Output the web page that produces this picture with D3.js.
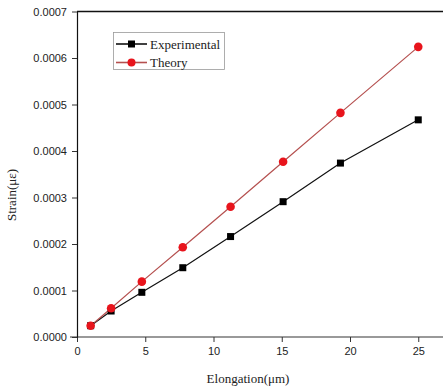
<!DOCTYPE html>
<head>
    <meta charset="utf-8">
    <title>Strain vs Elongation</title>
    <script type="text/javascript" src="https://d3js.org/d3.v7.min.js"></script>
    <style>
        body { margin: 0; background: #fff; }
        .tick text { font-family: "Liberation Sans", Arial, sans-serif; font-size: 11px; fill: #222; }
        .lbl { font-family: "Liberation Serif", "Times New Roman", serif; font-size: 13px; fill: #222; }
    </style>
</head>
<body>
<div id="container"></div>
<script>
    //----------------------------DATA-------------------------------//
    const elongation = [1, 2.5, 4.75, 7.75, 11.25, 15.1, 19.3, 25];
    const experimental = [0.0000243, 0.0000559, 0.0000961, 0.000149, 0.000216, 0.000291, 0.000374, 0.000467];
    const theory = [0.0000243, 0.0000617, 0.000119, 0.000193, 0.00028, 0.000377, 0.000482, 0.000624];
    const xTicks = [0, 5, 10, 15, 20, 25];
    const yTicks = [0, 0.0001, 0.0002, 0.0003, 0.0004, 0.0005, 0.0006, 0.0007];

    //----------------------------SVG--------------------------------//
    const width = 443;
    const height = 392;
    const svg = d3.select("div#container").append("svg")
        .attr("width", width)
        .attr("height", height);

    //---------------------------SCALES------------------------------//
    const xScale = d3.scaleLinear().domain([0, 27]).range([77, 77 + 27 * 13.65]);
    const yScale = d3.scaleLinear().domain([0, 0.0007]).range([337, 11.5]);

    //----------------------------AXES-------------------------------//
    // top frame line
    svg.append("line")
        .attr("x1", 77).attr("x2", width)
        .attr("y1", yScale(0.0007)).attr("y2", yScale(0.0007))
        .attr("stroke", "#111").attr("stroke-width", 1.6);

    const xaxis = d3.axisBottom(xScale).tickValues(xTicks).tickSize(5).tickSizeOuter(0).tickFormat(d3.format("d"));
    const gx = svg.append("g")
        .attr("transform", "translate(0," + yScale(0) + ")")
        .call(xaxis);
    gx.select(".domain").attr("stroke", "#777").attr("stroke-width", 1.4)
        .attr("d", "M70,0H" + width);
    gx.selectAll(".tick line").attr("stroke", "#333");
    gx.selectAll(".tick text").attr("dy", "0.9em");

    const yaxis = d3.axisLeft(yScale).tickValues(yTicks).tickSize(5).tickSizeOuter(0).tickFormat(d3.format(".4f"));
    const gy = svg.append("g")
        .attr("transform", "translate(" + xScale(0) + ",0)")
        .call(yaxis);
    gy.select(".domain").attr("stroke", "#111").attr("stroke-width", 1.2);
    gy.selectAll(".tick line").attr("stroke", "#333");
    gy.selectAll(".tick text").attr("x", -10);

    svg.append("text")
        .attr("class", "lbl")
        .attr("x", 248).attr("y", 383)
        .attr("text-anchor", "middle")
        .text("Elongation(\u03bcm)");

    svg.append("text")
        .attr("class", "lbl")
        .attr("transform", "translate(16,195) rotate(-90)")
        .attr("text-anchor", "middle")
        .text("Strain(\u03bc\u03b5)");

    //----------------------------LINES------------------------------//
    const line = d3.line()
        .x(function(d, i) { return xScale(elongation[i]); })
        .y(function(d) { return yScale(d); });

    svg.append("path")
        .attr("d", line(experimental))
        .attr("fill", "none")
        .attr("stroke", "#111")
        .attr("stroke-width", 1.2);

    svg.append("path")
        .attr("d", line(theory))
        .attr("fill", "none")
        .attr("stroke", "#b5504f")
        .attr("stroke-width", 1.2);

    svg.selectAll(".sq")
        .data(experimental)
        .enter().append("rect")
        .attr("class", "sq")
        .attr("x", function(d, i) { return xScale(elongation[i]) - 3.5; })
        .attr("y", function(d) { return yScale(d) - 3.5; })
        .attr("width", 7).attr("height", 7)
        .attr("fill", "#000");

    svg.selectAll(".dot")
        .data(theory)
        .enter().append("circle")
        .attr("class", "dot")
        .attr("cx", function(d, i) { return xScale(elongation[i]); })
        .attr("cy", function(d) { return yScale(d); })
        .attr("r", 4.3)
        .attr("fill", "#e8141c");

    //---------------------------LEGEND------------------------------//
    const legend = svg.append("g");
    legend.append("rect")
        .attr("x", 113.5).attr("y", 32.5)
        .attr("width", 111).attr("height", 37)
        .attr("fill", "none")
        .attr("stroke", "#999").attr("stroke-width", 0.8);

    const entries = [
        { name: "Experimental", color: "#111", y: 44, shape: "sq" },
        { name: "Theory", color: "#b5504f", y: 62.5, shape: "dot" }
    ];
    entries.forEach(function(e) {
        legend.append("line")
            .attr("x1", 116).attr("x2", 147)
            .attr("y1", e.y).attr("y2", e.y)
            .attr("stroke", e.color).attr("stroke-width", 1.6);
        if (e.shape === "sq") {
            legend.append("rect")
                .attr("x", 131.5 - 3.5).attr("y", e.y - 3.5)
                .attr("width", 7).attr("height", 7).attr("fill", "#000");
        } else {
            legend.append("circle")
                .attr("cx", 131.5).attr("cy", e.y).attr("r", 4)
                .attr("fill", "#e8141c");
        }
        legend.append("text")
            .attr("class", "lbl")
            .attr("x", 150).attr("y", e.y + 4.5)
            .text(e.name);
    });
</script>
</body>
